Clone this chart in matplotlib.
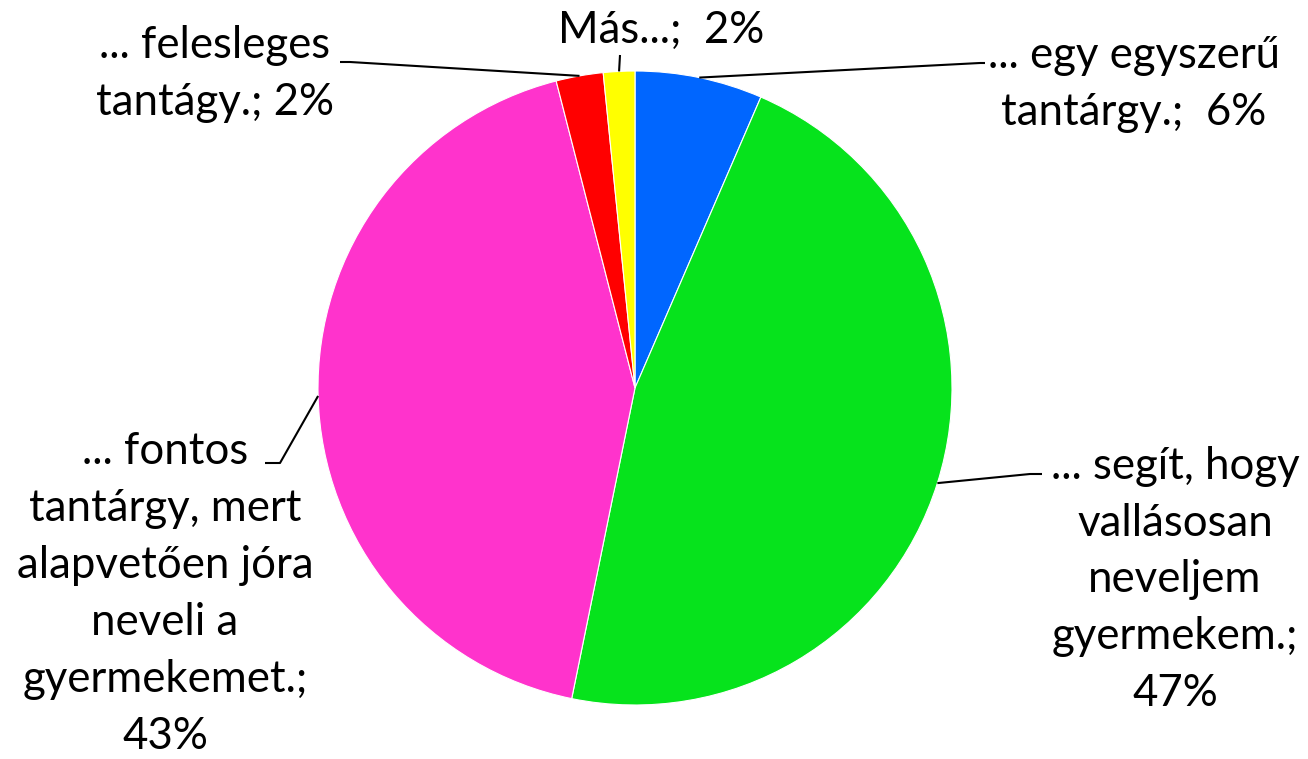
import numpy as np
import matplotlib
matplotlib.use("Agg")
import matplotlib.pyplot as plt

labels = ["... egy egyszerű\ntantárgy.;  6%",
          "... segít, hogy\nvallásosan\nneveljem\ngyermekem.;\n47%",
          "... fontos\ntantárgy, mert\nalapvetően jóra\nneveli a\ngyermekemet.;\n43%",
          "... felesleges\ntantágy.; 2%",
          "Más...;  2%"]
values = [6.5, 46.7, 42.8, 2.4, 1.6]
colors = ["#0066FF", "#06E31C", "#FF33CC", "#FF0000", "#FFFF00"]

W, H = 1308, 759
fig = plt.figure(figsize=(W/100, H/100), dpi=100)
ax = fig.add_axes([0, 0, 1, 1])

cx, cy, r = 635, H - 388, 317
wedges, _ = ax.pie(values, startangle=90, counterclock=False, colors=colors,
                   center=(cx, cy), radius=r, frame=True,
                   wedgeprops=dict(edgecolor="white", linewidth=0.8))
ax.set_xlim(0, W)
ax.set_ylim(0, H)
ax.set_aspect("equal")
ax.axis("off")

# label text centres (pixels from top-left), leader elbow points
text_pos = [(1134, 84), (1175, 580), (165, 594), (215, 74), (661, 30)]
elbows = [[(980, 63), (985, 63)],
          [(1030, 474), (1042, 474)],
          [(280, 463), (265, 463)],
          [(350, 62), (340, 62)],
          [(620, 55)]]

font = ["Lato", "DejaVu Sans"]
for w, lab, (tx, ty), elb in zip(wedges, labels, text_pos, elbows):
    mid = np.deg2rad((w.theta1 + w.theta2) / 2)
    px, py = cx + r * np.cos(mid), cy + r * np.sin(mid)
    xs = [px] + [e[0] for e in elb]
    ys = [py] + [H - e[1] for e in elb]
    ax.plot(xs, ys, color="black", lw=1.5, solid_capstyle="butt")
    ax.text(tx, H - ty, lab, ha="center", va="center", fontsize=31.5,
            family=font, linespacing=1.48, color="black")

fig.savefig("out.png", dpi=100)
